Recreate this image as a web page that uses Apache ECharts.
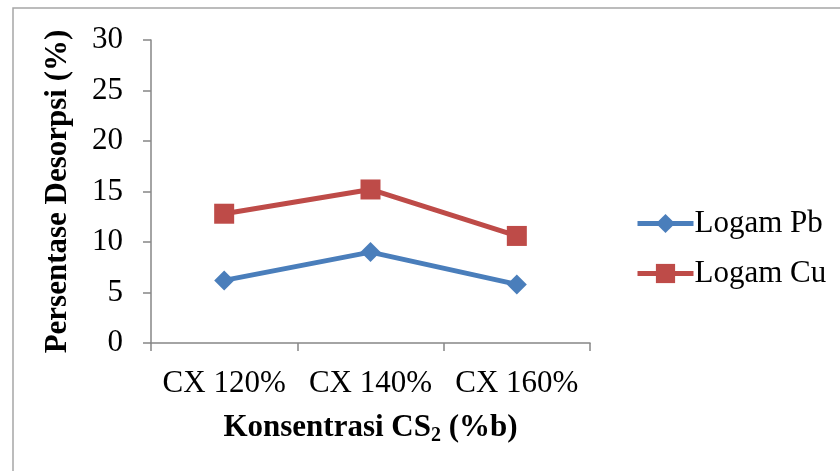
<!DOCTYPE html>
<html>
<head>
<meta charset="utf-8">
<script src="https://cdn.jsdelivr.net/npm/echarts@6/dist/echarts.min.js"></script>
<style>
  html, body { margin: 0; padding: 0; background: #fff; }
  #chart { width: 840px; height: 471px; }
</style>
</head>
<body>
<div id="chart"></div>
<script>
// Desorption percentage per CS2 concentration
const categories = ['CX 120%', 'CX 140%', 'CX 160%'];
const pbValues = [6.2, 9.0, 5.8];
const cuValues = [12.8, 15.2, 10.6];
const yTicks = { min: 0, max: 30, interval: 5 };

const font = '"Liberation Serif", "Times New Roman", serif';
const axisGray = '#868686';

const chart = echarts.init(document.getElementById('chart'), null, { renderer: 'canvas' });

chart.setOption({
  backgroundColor: '#ffffff',
  animation: false,
  textStyle: { fontFamily: font, color: '#000' },
  graphic: [{
    type: 'rect',
    shape: { x: 13, y: 8, width: 900, height: 600 },
    style: { fill: 'none', stroke: '#a6a6a6', lineWidth: 1.5 },
    silent: true
  }],
  grid: { left: 151, right: 250, top: 40, bottom: 128 },
  legend: {
    orient: 'vertical',
    left: 630,
    top: 203,
    itemWidth: 56,
    itemHeight: 24,
    itemGap: 19,
    lineStyle: { width: 5 },
    textStyle: { fontFamily: font, fontSize: 31, color: '#000', padding: [0, 0, 0, -4] },
    data: ['Logam Pb', 'Logam Cu']
  },
  xAxis: {
    type: 'category',
    data: categories,
    boundaryGap: true,
    axisLine: { lineStyle: { color: axisGray, width: 1.5 } },
    axisTick: { show: true, length: 8, inside: false, lineStyle: { color: axisGray, width: 1.5 } },
    axisLabel: { fontFamily: font, fontSize: 31, color: '#000', margin: 25, interval: 0, hideOverlap: false },
    name: '{b|Konsentrasi CS}{s|2}{b| (%b)}',
    nameLocation: 'middle',
    nameGap: 67,
    nameTextStyle: {
      rich: {
        b: { fontFamily: font, fontSize: 31, fontWeight: 'bold', color: '#000' },
        s: { fontFamily: font, fontSize: 20, fontWeight: 'bold', color: '#000', verticalAlign: 'bottom', padding: [16, 0, 0, 0] }
      }
    }
  },
  yAxis: {
    type: 'value',
    min: yTicks.min,
    max: yTicks.max,
    interval: yTicks.interval,
    splitLine: { show: false },
    axisLine: { show: true, lineStyle: { color: axisGray, width: 1.5 } },
    axisTick: { show: true, length: 8, lineStyle: { color: axisGray, width: 1.5 } },
    axisLabel: { fontFamily: font, fontSize: 31, color: '#000', margin: 28 },
    name: 'Persentase Desorpsi (%)',
    nameLocation: 'middle',
    nameGap: 78,
    nameTextStyle: { fontFamily: font, fontSize: 31, fontWeight: 'bold', color: '#000' }
  },
  series: [
    {
      name: 'Logam Pb',
      type: 'line',
      data: pbValues,
      symbol: 'diamond',
      symbolSize: 20,
      color: '#4a7ebb',
      lineStyle: { width: 5, color: '#4a7ebb' },
      itemStyle: { color: '#4a7ebb' }
    },
    {
      name: 'Logam Cu',
      type: 'line',
      data: cuValues,
      symbol: 'rect',
      symbolSize: 20,
      color: '#be4b48',
      lineStyle: { width: 5, color: '#be4b48' },
      itemStyle: { color: '#be4b48' }
    }
  ]
});
</script>
</body>
</html>
